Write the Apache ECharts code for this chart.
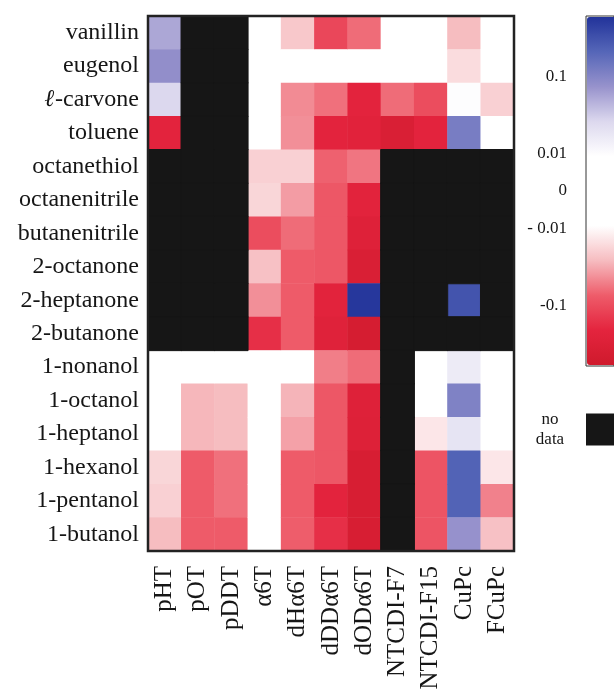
<!DOCTYPE html>
<html>
<head>
<meta charset="utf-8">
<script src="https://cdn.jsdelivr.net/npm/echarts@6/dist/echarts.min.js"></script>
<style>
  html, body { margin: 0; padding: 0; background: #fff; }
  #chart { width: 614px; height: 696px; }
</style>
</head>
<body>
<div id="chart"></div>
<script>
// Analytes (rows, top to bottom) and sensor materials (columns, left to right)
const analytes = ['vanillin', 'eugenol', 'ℓ-carvone', 'toluene', 'octanethiol', 'octanenitrile',
  'butanenitrile', '2-octanone', '2-heptanone', '2-butanone', '1-nonanol', '1-octanol',
  '1-heptanol', '1-hexanol', '1-pentanol', '1-butanol'];
const sensors = ['pHT', 'pOT', 'pDDT', 'α6T', 'dHα6T', 'dDDα6T', 'dODα6T',
  'NTCDI-F7', 'NTCDI-F15', 'CuPc', 'FCuPc'];

// Response of each sensor to each analyte (row order as above); null = no data
const pHT      = [0.06, 0.085, 0.03, -0.2, null, null, null, null, null, null, 0, 0, 0, -0.02, -0.022, -0.03];
const pOT      = [null, null, null, null, null, null, null, null, null, null, 0, -0.032, -0.032, -0.08, -0.08, -0.08];
const pDDT     = [null, null, null, null, null, null, null, null, null, null, -0.004, -0.03, -0.03, -0.065, -0.065, -0.08];
const a6T      = [0, 0, 0, 0, -0.022, -0.02, -0.1, -0.028, -0.048, -0.16, 0, 0, 0, 0, 0, 0];
const dHa6T    = [-0.025, 0, -0.05, -0.048, -0.022, -0.042, -0.068, -0.08, -0.08, -0.08, 0, -0.033, -0.04, -0.08, -0.08, -0.078];
const dDDa6T   = [-0.11, 0, -0.065, -0.2, -0.075, -0.085, -0.085, -0.085, -0.21, -0.23, -0.057, -0.085, -0.085, -0.085, -0.2, -0.16];
const dODa6T   = [-0.068, 0, -0.2, -0.22, -0.062, -0.21, -0.24, -0.3, 0.42, -0.36, -0.068, -0.24, -0.25, -0.33, -0.33, -0.33];
const ntcdiF7  = [0, 0, -0.068, -0.3, null, null, null, null, null, null, null, null, null, null, null, null];
const ntcdiF15 = [0, 0, -0.1, -0.2, null, null, null, null, null, null, 0, 0, -0.015, -0.09, -0.09, -0.09];
const cuPc     = [-0.03, -0.018, 0.01, 0.12, null, null, null, null, 0.26, null, 0.018, 0.11, 0.022, 0.2, 0.2, 0.08];
const fCuPc    = [0, 0, -0.022, 0, null, null, null, null, null, null, 0, 0, 0, -0.015, -0.055, -0.028];

const columns = [pHT, pOT, pDDT, a6T, dHa6T, dDDa6T, dODa6T, ntcdiF7, ntcdiF15, cuPc, fCuPc];

// Colour scale tick values and their printed labels
const scaleTicks = [0.1, 0.01, 0, -0.01, -0.1];
const scaleTickLabels = ['0.1', '0.01', '0', '- 0.01', '-0.1'];

// Symmetric log transform used by the colour scale
const LIN = 0.007;
const SCALE_MAX = 0.45;
function symlog(v) { return Math.sign(v) * Math.log10(1 + Math.abs(v) / LIN); }
const TMAX = symlog(SCALE_MAX);

const cells = [];
const missing = [];
columns.forEach((col, x) => {
  col.forEach((v, y) => {
    if (v === null) missing.push([x, y, 1]);
    else cells.push([x, y, symlog(v)]);
  });
});

const serif = 'Liberation Serif';
const ink = '#161616';

const chart = echarts.init(document.getElementById('chart'), null, { renderer: 'canvas' });
chart.setOption({
  animation: false,
  backgroundColor: '#ffffff',
  grid: [
    { left: 148, top: 16, width: 366, height: 535, show: true, z: 3,
      borderColor: '#222', borderWidth: 2.5, backgroundColor: 'transparent' },
    { left: 586, top: 16, width: 32, height: 350, show: true, z: 0,
      borderColor: '#333', borderWidth: 1, backgroundColor: 'transparent' }
  ],
  xAxis: [
    { type: 'category', gridIndex: 0, data: sensors, position: 'bottom',
      axisLine: { show: false }, axisTick: { show: false }, splitLine: { show: false },
      axisLabel: { rotate: 90, margin: 15, fontFamily: serif, fontSize: 25, color: ink, interval: 0 } },
    { type: 'value', gridIndex: 1, show: false, min: 0, max: 1 }
  ],
  yAxis: [
    { type: 'category', gridIndex: 0, data: analytes, inverse: true,
      axisLine: { show: false }, axisTick: { show: false }, splitLine: { show: false },
      axisLabel: {
        margin: 9, fontFamily: serif, fontSize: 24, color: ink, interval: 0,
        formatter: (s) => s.startsWith('ℓ') ? '{l|ℓ}' + s.slice(1) : s,
        rich: { l: { fontFamily: serif, fontSize: 24, fontStyle: 'italic', fontWeight: 'bold', color: ink } }
      } },
    { type: 'value', gridIndex: 1, min: -TMAX, max: TMAX, position: 'left',
      axisLine: { show: false }, axisTick: { show: false }, splitLine: { show: false },
      axisLabel: {
        margin: 19, fontFamily: serif, fontSize: 17, color: ink,
        customValues: scaleTicks.map(symlog),
        formatter: (val) => {
          let best = 0;
          scaleTicks.forEach((t, i) => {
            if (Math.abs(symlog(t) - val) < Math.abs(symlog(scaleTicks[best]) - val)) best = i;
          });
          return scaleTickLabels[best];
        }
      } }
  ],
  visualMap: {
    type: 'continuous',
    seriesIndex: 0,
    min: -TMAX,
    max: TMAX,
    calculable: false,
    realtime: false,
    hoverLink: false,
    orient: 'vertical',
    left: 587,
    top: 17,
    itemWidth: 30,
    itemHeight: 348,
    padding: 0,
    text: null,
    showLabel: false,
    inRange: {
      color: ['#cf1a2c', '#e4243e', '#ee5c6a', '#f6bcc0', '#ffffff', '#ffffff',
        '#ffffff', '#dcd8ee', '#9792cc', '#5566b8', '#22339a']
    }
  },
  legend: {
    data: ['no data'],
    orient: 'vertical',
    align: 'right',
    right: 0,
    top: 411,
    padding: 0,
    itemWidth: 26,
    itemHeight: 30,
    icon: 'rect',
    selectedMode: false,
    formatter: () => '{a|no}\n{a|data}',
    textStyle: {
      rich: { a: { fontFamily: serif, fontSize: 17, color: ink, width: 40, align: 'center', lineHeight: 20, padding: [0, 12, 0, 0] } }
    }
  },
  series: [
    { name: 'response', type: 'heatmap', xAxisIndex: 0, yAxisIndex: 0, data: cells,
      itemStyle: { borderWidth: 0 }, emphasis: { disabled: true } },
    { name: 'no data', type: 'heatmap', xAxisIndex: 0, yAxisIndex: 0, data: missing,
      itemStyle: { color: ink, borderColor: ink, borderWidth: 1 }, emphasis: { disabled: true } }
  ]
});
</script>
</body>
</html>
